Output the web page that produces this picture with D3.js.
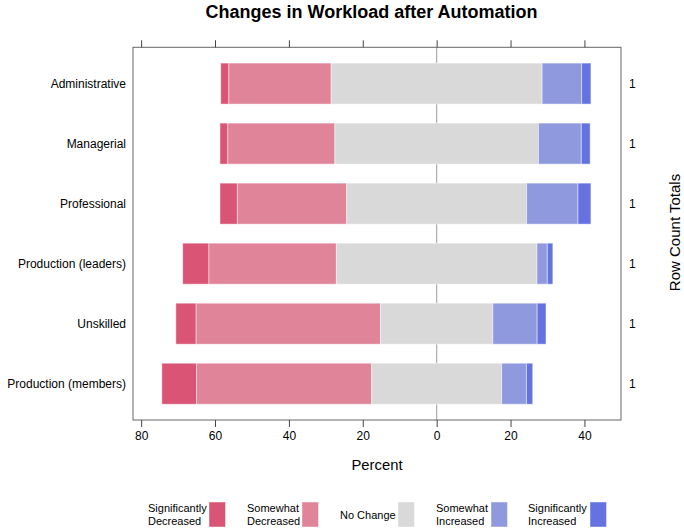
<!DOCTYPE html>
<html><head><meta charset="utf-8">
<script src="https://cdn.jsdelivr.net/npm/d3@7"></script>
<style>body{margin:0;background:#fff}svg{display:block;font-family:"Liberation Sans",Arial,sans-serif}</style>
</head><body><svg id="c" width="684" height="530"></svg>
<script>
const categories = ["Administrative","Managerial","Professional","Production (leaders)","Unskilled","Production (members)"];
const levels = ["Significantly Decreased","Somewhat Decreased","No Change","Somewhat Increased","Significantly Increased"];
const legendLines = [["Significantly","Decreased"],["Somewhat","Decreased"],["No Change"],["Somewhat","Increased"],["Significantly","Increased"]];
const sigDecreased  = [2.2, 2.1, 4.7, 7.1, 5.5, 9.4];
const someDecreased = [27.7, 29.0, 29.6, 34.5, 49.9, 47.4];
const noChange      = [57.1, 55.1, 48.7, 54.3, 30.4, 35.2];
const someIncreased = [10.7, 11.6, 13.9, 2.8, 12.0, 6.7];
const sigIncreased  = [2.5, 2.4, 3.5, 1.5, 2.4, 1.7];
const rowTotals = [1,1,1,1,1,1];
const xTicks = [-80,-60,-40,-20,0,20,40];
const colors = ["#D95475","#E08499","#D9D9D9","#8F9ADE","#6473E0"];

const svg = d3.select("#c");
const L=133, R=621, T=47.3, B=420;
const x = d3.scaleLinear().domain([-82.2,49.9]).range([L,R]);
const y = d3.scaleBand().domain(categories).range([T+6.3,B-6.3]).paddingInner(0.317).paddingOuter(0.158);

// center line
svg.append("line").attr("x1",x(0)).attr("x2",x(0)).attr("y1",T).attr("y2",B).attr("stroke","#aaa").attr("stroke-width",1.2);

const series=[sigDecreased,someDecreased,noChange,someIncreased,sigIncreased];
categories.forEach((c,i)=>{
  let start = -(sigDecreased[i]+someDecreased[i]+noChange[i]/2);
  series.forEach((s,k)=>{
    const v=s[i];
    svg.append("rect").attr("x",x(start)).attr("width",x(start+v)-x(start))
      .attr("y",y(c)).attr("height",y.bandwidth()).attr("fill",colors[k])
      .attr("stroke","#fff").attr("stroke-opacity",0.45).attr("stroke-width",1);
    start+=v;
  });
});

// panel border
svg.append("rect").attr("x",L).attr("y",T).attr("width",R-L).attr("height",B-T).attr("fill","none").attr("stroke","#666").attr("stroke-width",1);

const fmt=d=>Math.abs(d);
const gBot=svg.append("g").attr("transform",`translate(0,${B})`).call(d3.axisBottom(x).tickValues(xTicks).tickFormat(fmt).tickSize(7).tickPadding(4));
const gTop=svg.append("g").attr("transform",`translate(0,${T})`).call(d3.axisTop(x).tickValues(xTicks).tickFormat("").tickSize(7));
[gBot,gTop].forEach(g=>{g.select(".domain").remove();g.selectAll("line").attr("stroke","#444");g.selectAll("text").attr("font-size",12).attr("fill","#000").attr("font-family","Liberation Sans, Arial, sans-serif");});

// left labels
svg.append("g").selectAll("text").data(categories).join("text")
  .attr("x",126).attr("y",d=>y(d)+y.bandwidth()/2).attr("dy","0.35em").attr("text-anchor","end")
  .attr("font-size",12).text(d=>d);
// right totals
svg.append("g").selectAll("text").data(categories).join("text")
  .attr("x",629).attr("y",d=>y(d)+y.bandwidth()/2).attr("dy","0.35em")
  .attr("font-size",12).text((d,i)=>rowTotals[i]);

svg.append("text").attr("transform","translate(680,232.5) rotate(-90)").attr("text-anchor","middle").attr("font-size",15).text("Row Count Totals");
svg.append("text").attr("x",(L+R)/2).attr("y",470).attr("text-anchor","middle").attr("font-size",14.8).text("Percent");
svg.append("text").attr("x",371.5).attr("y",17.5).attr("text-anchor","middle").attr("font-size",18).attr("font-weight","bold").text("Changes in Workload after Automation");

// legend
const legTextX=[148,247,340,436,528];
const legRectX=[209,302,398,491,590];
levels.forEach((lv,k)=>{
  const lines=legendLines[k];
  const t=svg.append("text").attr("x",legTextX[k]).attr("font-size",11);
  if(lines.length===2){
    t.append("tspan").attr("x",legTextX[k]).attr("y",512).text(lines[0]);
    t.append("tspan").attr("x",legTextX[k]).attr("y",525).text(lines[1]);
  } else {
    t.attr("y",518.5).text(lines[0]);
  }
  svg.append("rect").attr("x",legRectX[k]).attr("y",502).attr("width",16.5).attr("height",25).attr("fill",colors[k]).attr("stroke","#fff").attr("stroke-opacity",0.45);
});
</script></body></html>
